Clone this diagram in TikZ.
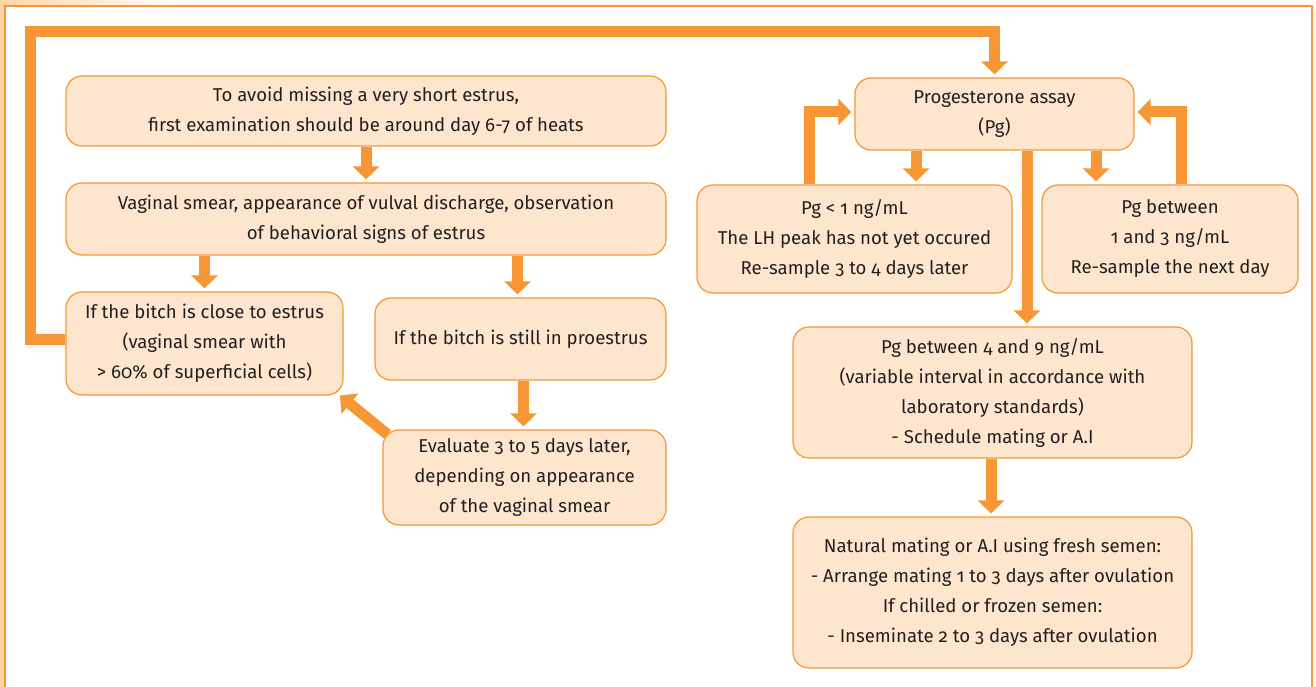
\documentclass[tikz,border=0pt]{standalone}
\usepackage{fontspec}
\setmainfont{Fira Sans}[RawFeature=+onum]
\usetikzlibrary{arrows.meta}
\definecolor{flowline}{RGB}{247,150,52}
\definecolor{boxfill}{RGB}{254,230,206}
\definecolor{edgepeach}{RGB}{255,212,168}
\definecolor{textgrey}{RGB}{35,31,32}

\begin{document}
\begin{tikzpicture}[x=1pt, y=-1pt,
    stepbox/.style={draw=flowline, fill=boxfill, line width=1.2pt, rounded corners=16pt,
        align=center, text=textgrey, inner sep=0pt, font=\fontsize{18.6}{30}\selectfont},
    flow/.style={draw=flowline, line width=11pt, -{Triangle[width=26pt,length=13pt]}, shorten >=3pt}]

    \useasboundingbox (0,0) rectangle (1316,687);
    \fill[edgepeach] (0,0) rectangle (5,687);
    \shade[left color=edgepeach, right color=white] (0,0) rectangle (180,6);
    \draw[flowline, line width=1.5pt] (5,687) -- (5,6) -- (1312,6) -- (1312,687);

    \node[stepbox, minimum width=600pt, minimum height=70pt] (avoid) at (366,111)
        {To avoid missing a very short estrus,\\first examination should be around day 6-7 of heats};
    \node[stepbox, minimum width=600pt, minimum height=72pt] (smear) at (366,219)
        {Vaginal smear, appearance of vulval discharge, observation\\of behavioral signs of estrus};
    \node[stepbox, minimum width=277pt, minimum height=103pt] (close) at (204.5,343.5)
        {If the bitch is close to estrus\\(vaginal smear with\\> 60\% of superficial cells)};
    \node[stepbox, minimum width=291pt, minimum height=82pt] (proestrus) at (520.5,339)
        {If the bitch is still in proestrus};
    \node[stepbox, minimum width=283pt, minimum height=95pt] (evaluate) at (524.5,477.5)
        {Evaluate 3 to 5 days later,\\depending on appearance\\of the vaginal smear};

    \node[stepbox, minimum width=279pt, minimum height=72pt] (assay) at (994.5,114)
        {Progesterone assay\\(Pg)};
    \node[stepbox, minimum width=315pt, minimum height=108pt] (low) at (854.5,239)
        {Pg < 1 ng/mL\\The LH peak has not yet occured\\Re-sample 3 to 4 days later};
    \node[stepbox, minimum width=256pt, minimum height=108pt] (mid) at (1170,239)
        {Pg between\\1 and 3 ng/mL\\Re-sample the next day};
    \node[stepbox, minimum width=399pt, minimum height=131pt] (high) at (992.5,392.5)
        {Pg between 4 and 9 ng/mL\\(variable interval in accordance with\\laboratory standards)\\- Schedule mating or A.I};
    \node[stepbox, minimum width=399pt, minimum height=151pt] (mating) at (992.5,592.5)
        {Natural mating or A.I using fresh semen:\\- Arrange mating 1 to 3 days after ovulation\\If chilled or frozen semen:\\- Inseminate 2 to 3 days after ovulation};

    \draw[flow] (avoid.south) -- (smear.north);
    \draw[flow] (close.north |- smear.south) -- (close.north);
    \draw[flow] ([xshift=-3pt]proestrus.north |- smear.south) -- ([xshift=-3pt]proestrus.north);
    \draw[flow] ([xshift=-1pt]evaluate.north |- proestrus.south) -- ([xshift=-1pt]evaluate.north);
    \draw[flow] ([xshift=5pt,yshift=-5pt]evaluate.north west) -- ([xshift=-6pt,yshift=2pt]close.south east);
    \draw[flow, line cap=butt] ([yshift=4pt]close.west) -- ++(-35,0) |- ([yshift=46pt]assay.north) -- (assay.north);

    \draw[flow] ([xshift=61.5pt]low.north |- assay.south) -- ([xshift=61.5pt]low.north);
    \draw[flow] ([xshift=-74pt]mid.north |- assay.south) -- ([xshift=-74pt]mid.north);
    \draw[flow] ([xshift=34.5pt]high.north |- assay.south) -- ([xshift=34.5pt]high.north);
    \draw[flow] ([xshift=-45.5pt]low.north) |- ([yshift=2pt]assay.west);
    \draw[flow] ([xshift=11pt]mid.north) |- ([yshift=2pt]assay.east);
    \draw[flow] ([xshift=-1.5pt]high.south) -- ([xshift=-1.5pt]mating.north);
\end{tikzpicture}
\end{document}
